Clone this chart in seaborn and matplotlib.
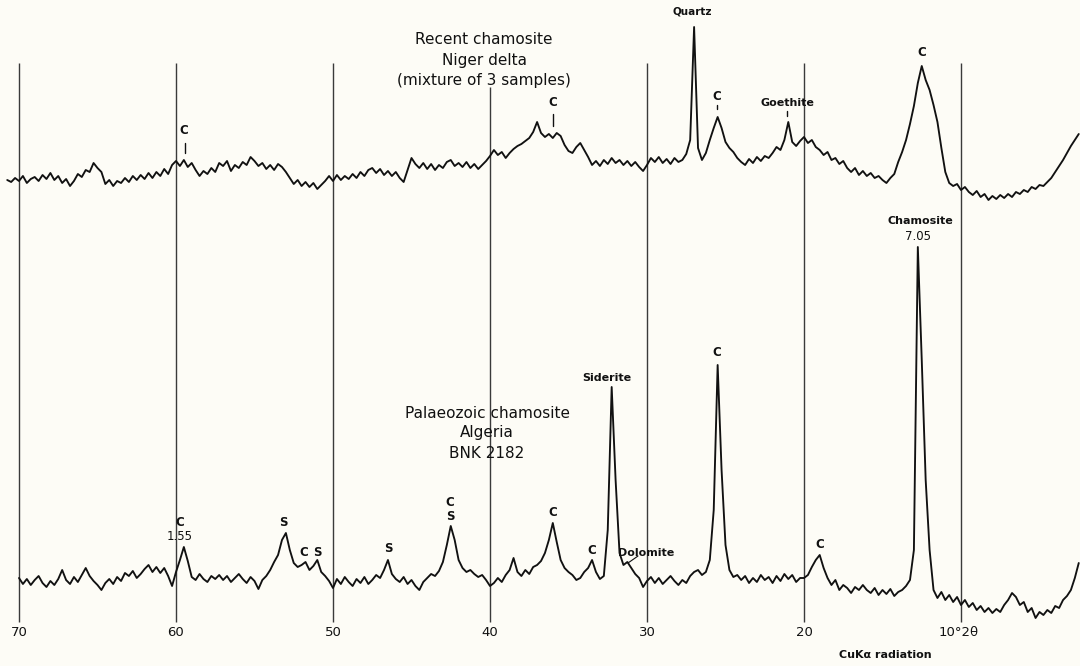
import numpy as np
import pandas as pd
import matplotlib
matplotlib.use("Agg")
import matplotlib.pyplot as plt
import seaborn as sns

# ---------------- data (every 0.25 deg 2-theta) ----------------
two_theta_recent = np.round(np.arange(70.75, 2.49, -0.25), 2)   # 70.75 ... 2.5
two_theta_palaeo = np.round(np.arange(70.00, 2.49, -0.25), 2)   # 70.00 ... 2.5

# Recent chamosite, Niger delta (relative counts)
recent_counts = [
    20, 18, 22,
    19, 24, 17, 21,  23, 19, 25, 21,  27, 20, 24, 17,  21, 14, 19, 26,
    23, 30, 28, 37,  32, 28, 16, 20,  14, 19, 17, 22,  18, 24, 20, 25,
    21, 27, 22, 28,  24, 31, 26, 35,  39, 34, 40, 33,  37, 30, 24, 29,
    26, 32, 28, 37,  34, 39, 29, 35,  32, 38, 35, 43,  39, 34, 37, 31,
    35, 30, 36, 33,  28, 22, 16, 20,  14, 18, 13, 17,  11, 15, 19, 24,
    19, 25, 20, 24,  21, 26, 22, 28,  24, 30, 32, 27,  31, 25, 29, 24,
    28, 22, 18, 30,  42, 36, 32, 37,  31, 36, 30, 35,  32, 38, 40, 34,
    37, 33, 38, 32,  36, 31, 35, 39,  44, 50, 45, 48,  42, 47, 51, 54,
    56, 59, 62, 68,  78, 67, 63, 66,  62, 67, 64, 55,  49, 47, 53, 57,
    50, 43, 35, 39,  34, 40, 36, 42,  37, 40, 35, 39,  34, 38, 33, 29,
    35, 42, 38, 43,  37, 41, 36, 42,  38, 40, 46, 60,  173, 52, 40, 47,
    60, 72, 83, 72,  58, 52, 48, 42,  38, 35, 41, 37,  43, 39, 44, 42,
    47, 53, 50, 60,  78, 58, 54, 59,  63, 57, 60, 53,  50, 45, 48, 40,
    42, 36, 39, 32,  28, 32, 25, 29,  24, 27, 22, 24,  20, 17, 22, 26,
    38, 48, 60, 76,  94, 117, 134, 120,  110, 95, 78, 52,  28, 17, 14, 16,
    10, 13, 8, 5,  9, 3, 6, 0,  4, 1, 5, 2,  6, 3, 8, 6,
    10, 8, 13, 11,  15, 14, 18, 22,  28, 34, 40, 47,  54, 60, 66,
]

# Palaeozoic chamosite, Algeria BNK 2182 (relative counts)
palaeo_counts = [
    52, 46, 51, 45,  50, 54, 47, 43,  49, 45, 51, 60,  50, 46, 53, 48,
    55, 62, 54, 49,  45, 40, 47, 51,  46, 53, 49, 57,  54, 59, 52, 56,
    61, 65, 58, 63,  57, 62, 54, 44,  58, 70, 83, 69,  53, 50, 56, 51,
    48, 54, 51, 55,  50, 54, 48, 52,  56, 51, 47, 53,  49, 41, 50, 54,
    60, 68, 75, 90,  97, 80, 67, 63,  65, 68, 60, 64,  70, 58, 54, 49,
    42, 51, 46, 53,  48, 44, 51, 47,  53, 46, 50, 55,  52, 60, 70, 56,
    51, 48, 53, 46,  50, 44, 40, 48,  52, 56, 54, 59,  68, 85, 104, 90,
    70, 62, 58, 60,  56, 53, 55, 50,  44, 47, 52, 48,  55, 60, 72, 58,
    54, 60, 56, 63,  65, 69, 77, 90,  107, 88, 70, 62,  58, 55, 50, 52,
    58, 62, 70, 58,  51, 54, 100, 243,  150, 77, 65, 68,  62, 56, 52, 43,
    49, 53, 47, 52,  46, 50, 54, 49,  45, 50, 47, 54,  58, 60, 55, 58,
    70, 120, 265, 160,  85, 60, 53, 55,  50, 54, 47, 52,  48, 55, 50, 53,
    47, 54, 49, 56,  51, 55, 48, 52,  52, 55, 63, 70,  75, 62, 52, 45,
    50, 40, 45, 42,  37, 43, 40, 45,  40, 37, 42, 35,  40, 36, 41, 34,
    38, 40, 44, 50,  80, 383, 270, 150,  80, 40, 32, 38,  30, 35, 28, 33,
    25, 30, 23, 27,  20, 24, 18, 22,  17, 21, 18, 25,  30, 37, 33, 25,
    28, 18, 22, 12,  18, 15, 20, 17,  24, 22, 30, 34,  40, 52, 67,
]

grid_degrees = [70, 60, 50, 40, 30, 20, 10]
grid_labels = ["70", "60", "50", "40", "30", "20", "10°2θ"]

# ---------------- layout helpers ----------------
W, H = 1080, 666
PX0, PXDEG = 19.0, 15.7          # pixel of 70 deg, pixels per degree


def deg(xp):
    return 70.0 - (xp - PX0) / PXDEG


def Y(yp):
    return H - yp


recent_offset = Y(200)
palaeo_offset = Y(630)

df = pd.concat([
    pd.DataFrame({"two_theta": two_theta_recent,
                  "signal": np.array(recent_counts) + recent_offset,
                  "sample": "recent"}),
    pd.DataFrame({"two_theta": two_theta_palaeo,
                  "signal": np.array(palaeo_counts) + palaeo_offset,
                  "sample": "palaeo"}),
])

sns.set_style("white")
plt.rcParams["font.family"] = ["DejaVu Sans"]

paper = "#fdfcf6"
fig = plt.figure(figsize=(W / 100, H / 100), dpi=100, facecolor=paper)
ax = fig.add_axes([0, 0, 1, 1])
ax.set_facecolor(paper)

# vertical reference lines
tops = {40: Y(87)}
for d in grid_degrees:
    ax.vlines(d, Y(622), tops.get(d, Y(63)), color="#3a3a3a", lw=1.0, zorder=1)

for name, sub in df.groupby("sample", sort=False):
    sns.lineplot(data=sub, x="two_theta", y="signal", ax=ax, color="#111111",
                 lw=1.35, estimator=None, sort=False, zorder=3)

ax.set_xlim(deg(0), deg(W))
ax.set_ylim(0, H)
ax.set_axis_off()


def txt(xp, yp, s, size=8.5, weight="bold", **kw):
    ax.text(deg(xp), Y(yp), s, ha="center", va="center", fontsize=size,
            fontweight=weight, color="#111111", zorder=5, **kw)


def tick(xp, y1, y2, lw=1.0):
    ax.plot([deg(xp), deg(xp)], [Y(y1), Y(y2)], color="#111111", lw=lw, zorder=5)


# titles of the two traces
for i, s in enumerate(["Recent chamosite", "Niger delta", "(mixture of 3 samples)"]):
    txt(484, 40 + 20 * i, s, size=11, weight="normal")
for i, s in enumerate(["Palaeozoic chamosite", "Algeria", "BNK 2182"]):
    txt(487, 413 + 20 * i, s, size=11, weight="normal")

# top trace peak labels
txt(692, 12, "Quartz", size=7.5)
txt(717, 97, "C"); tick(717, 105, 109)
txt(787, 103, "Goethite", size=8); tick(787, 111, 116)
txt(922, 53, "C")
txt(184, 131, "C"); tick(185, 143, 153)
txt(553, 103, "C"); tick(553, 114, 126)

# bottom trace peak labels
txt(607, 378, "Siderite", size=8)
txt(717, 352, "C")
txt(920, 221, "Chamosite", size=8)
txt(918, 236, "7.05", size=8.5, weight="normal")
txt(820, 545, "C")
txt(646, 553, "Dolomite", size=8)
ax.plot([deg(628), deg(638)], [Y(563), Y(556)], color="#111111", lw=0.8, zorder=5)
txt(592, 551, "C")
txt(553, 513, "C")
txt(450, 502, "C")
txt(450, 517, "S")
txt(388, 549, "S")
txt(283, 522, "S")
txt(304, 552, "C")
txt(317, 552, "S")
txt(180, 523, "C")
txt(180, 537, "1.55", size=8.5, weight="normal")

# axis numbers
for d, lab in zip(grid_degrees, grid_labels):
    if lab.startswith("10"):
        ax.text(d + 22 / PXDEG, Y(633), lab, ha="left", va="center", fontsize=9.5,
                color="#111111", zorder=5)
    else:
        ax.text(d, Y(633), lab, ha="center", va="center", fontsize=9.5,
                color="#111111", zorder=5)
txt(885, 655, "CuKα radiation", size=8)

fig.savefig("out.png", dpi=100, facecolor=paper)
